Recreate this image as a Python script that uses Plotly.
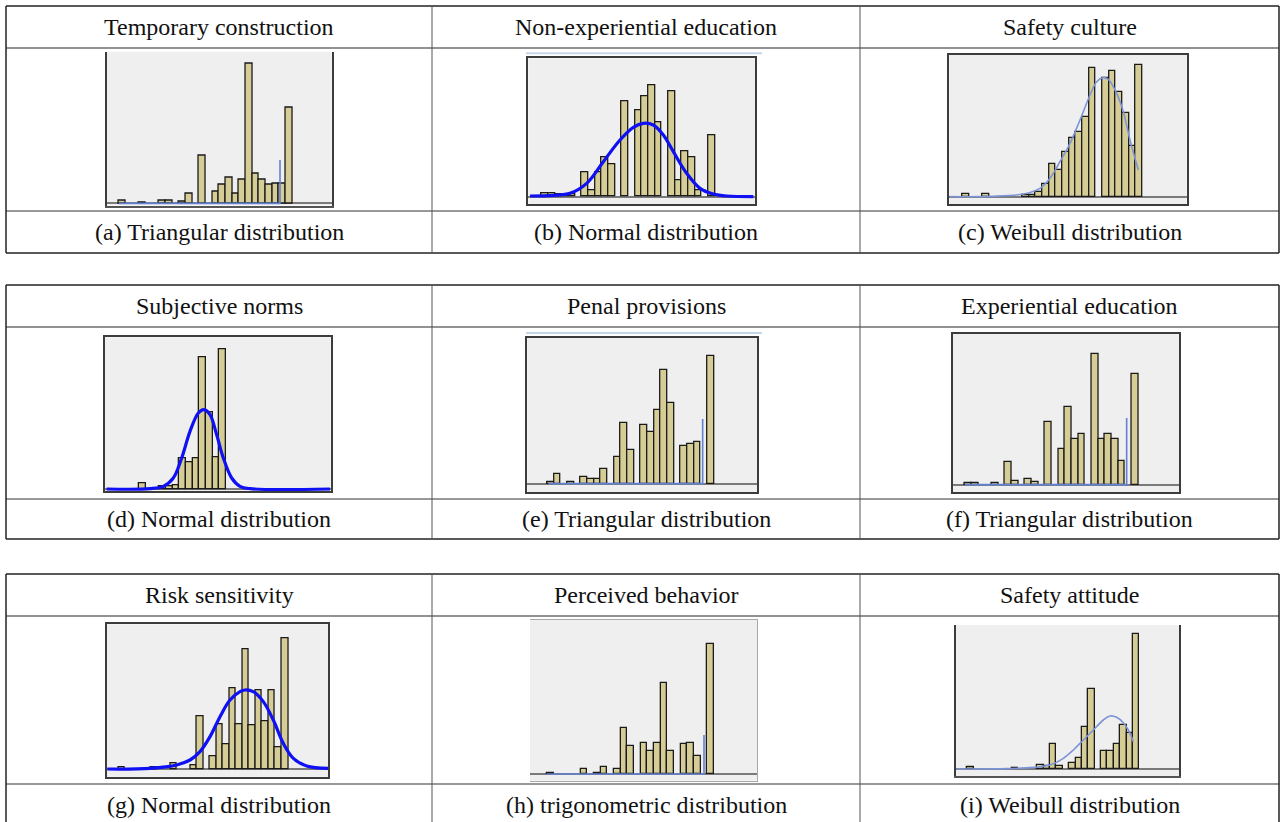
import plotly.graph_objects as go

W, H = 1281, 822

# ---------------- data ----------------
titles = ["Temporary construction", "Non-experiential education", "Safety culture",
          "Subjective norms", "Penal provisions", "Experiential education",
          "Risk sensitivity", "Perceived behavior", "Safety attitude"]
captions = ["(a) Triangular distribution", "(b) Normal distribution", "(c) Weibull distribution",
            "(d) Normal distribution", "(e) Triangular distribution", "(f) Triangular distribution",
            "(g) Normal distribution", "(h) trigonometric distribution", "(i) Weibull distribution"]

a_heights = [8, 0, 0, 3, 0, 0, 8, 8, 0, 6, 30, 0, 142, 0, 35, 55, 77, 30, 70, 420, 90, 70, 55, 60, 60, 287]
a_fit_x = [-0.5, 23.65, 23.65]
a_fit_y = [0, 0, 130]

b_heights = [10, 10, 7, 7, 7, 0, 73, 18, 73, 118, 97, 0, 285, 0, 260, 300, 335, 223, 0, 317, 50, 135, 118, 20, 0, 185]
b_fit_x = [-2.25, 1.25, 3.75, 6.25, 8.75, 11.25, 13.25, 14.75, 16.25, 17.75, 19.25, 21.25, 23.25, 25.25, 27.25, 31.25]
b_fit_y = [2, 4, 10, 40, 105, 170, 208, 220, 215, 185, 135, 70, 25, 8, 2, 0]

c_heights = [7, 0, 0, 7, 0, 0, 0, 0, 0, 5, 5, 15, 38, 98, 80, 135, 177, 195, 240, 385, 0, 355, 378, 315, 250, 152, 395]
c_fit_x = [-2.35, 3.65, 8.65, 11.15, 12.65, 14.15, 15.65, 17.15, 18.65, 19.65, 20.65, 21.4, 22.65, 23.65, 24.65, 25.9]
c_fit_y = [0, 1, 8, 25, 55, 105, 160, 230, 305, 345, 357, 352, 310, 255, 170, 80]

d_heights = [18, 0, 0, 8, 8, 10, 91, 81, 91, 395, 230, 96, 420]
d_fit_x = [-5.4, 1.1, 3.1, 4.6, 5.85, 7.1, 8.35, 9.2, 10.1, 11.1, 12.1, 13.35, 14.6, 16.1, 28.1]
d_fit_y = [0, 1, 8, 33, 93, 173, 228, 238, 223, 163, 93, 33, 8, 1, 0]

e_heights = [5, 30, 0, 6, 0, 20, 15, 15, 44, 0, 79, 182, 102, 0, 177, 154, 220, 342, 242, 0, 112, 120, 125, 0, 384]
e_fit_x = [-0.35, 22.8, 22.8]
e_fit_y = [0, 0, 194]

f_heights = [6, 6, 0, 0, 6, 0, 67, 12, 0, 17, 8, 0, 188, 0, 107, 232, 138, 153, 0, 393, 138, 153, 138, 70, 0, 333]
f_fit_x = [-0.5, 23.75, 23.75]
f_fit_y = [0, 0, 200]

g_heights = [6, 0, 0, 0, 0, 5, 0, 0, 17, 0, 0, 12, 159, 0, 37, 134, 74, 242, 134, 359, 130, 237, 144, 237, 64, 392]
g_fit_x = [-2.18, 4.35, 8.43, 10.47, 12.0, 13.53, 15.06, 16.59, 18.12, 18.89, 20.14, 21.69, 23.22, 24.75, 26.29, 28.33, 31.63]
g_fit_y = [0, 2, 12, 27, 52, 97, 157, 207, 232, 237, 232, 202, 147, 77, 32, 9, 2]

h_heights = [4, 0, 0, 0, 0, 14, 0, 4, 20, 0, 14, 139, 84, 0, 94, 70, 94, 274, 70, 0, 89, 94, 55, 0, 390]
h_fit_x = [-0.6, 23.0, 23.0]
h_fit_y = [0, 0, 117]

i_heights = [8, 0, 0, 0, 0, 0, 0, 3, 0, 0, 0, 13, 10, 75, 10, 0, 18, 33, 128, 240, 0, 56, 56, 75, 133, 108, 405]
i_fit_x = [-2.18, 5.68, 9.87, 12.48, 14.58, 16.15, 17.72, 19.29, 20.86, 21.91, 22.95, 24.0, 24.79, 25.57]
i_fit_y = [1, 2, 6, 13, 33, 58, 88, 118, 148, 160, 156, 140, 118, 83]

# ---------------- layout (positions / styles) ----------------
# origin of the cell picture, box (l, t, r, b) and baseline in 1/3-pixel units,
# centre of first bin and bin width in the same units
panels = [
    dict(h=a_heights, fx=a_fit_x, fy=a_fit_y, kind="tri", org=(100, 40), box=(20, 35, 695, 497), base=490, c0=67, bw=20, frame="sides"),
    dict(h=b_heights, fx=b_fit_x, fy=b_fit_y, kind="normal", org=(520, 40), box=(25, 55, 705, 492), base=470, c0=75, bw=20, frame="box"),
    dict(h=c_heights, fx=c_fit_x, fy=c_fit_y, kind="weibull", org=(940, 40), box=(28, 45, 740, 493), base=470, c0=77, bw=20, frame="box"),
    dict(h=d_heights, fx=d_fit_x, fy=d_fit_y, kind="normal", org=(100, 318), box=(15, 58, 692, 520), base=513, c0=128, bw=20, frame="box"),
    dict(h=e_heights, fx=e_fit_x, fy=e_fit_y, kind="tri", org=(520, 318), box=(22, 60, 712, 522), base=497, c0=92, bw=20, frame="box"),
    dict(h=f_heights, fx=f_fit_x, fy=f_fit_y, kind="tri", org=(940, 318), box=(38, 48, 718, 522), base=500, c0=85, bw=20, frame="box"),
    dict(h=g_heights, fx=g_fit_x, fy=g_fit_y, kind="normal", org=(100, 610), box=(20, 43, 685, 500), base=477, c0=64.8, bw=19.6, frame="box"),
    dict(h=h_heights, fx=h_fit_x, fy=h_fit_y, kind="tri", org=(520, 610), box=(30, 30, 712, 512), base=492, c0=92, bw=20, frame="light"),
    dict(h=i_heights, fx=i_fit_x, fy=i_fit_y, kind="weibull", org=(940, 610), box=(48, 45, 718, 498), base=478, c0=91.55, bw=19.1, frame="sides"),
]

BAR_FILL = "#d6cc96"
BAR_EDGE = "#1a1a1a"
FRAME = "#3c3c3c"

fig = go.Figure()
layout_axes = {}

def fit_trace(p, n):
    if p["kind"] == "normal":
        line = dict(color="#1010f5", width=3.2, shape="spline", smoothing=1.0)
    elif p["kind"] == "weibull":
        line = dict(color="#7d95d8", width=1.6, shape="spline", smoothing=1.0)
    else:
        line = dict(color="#6381d2", width=1.6)
    return go.Scatter(x=p["fx"], y=p["fy"], mode="lines", line=line,
                      xaxis="x" + n, yaxis="y" + n, hoverinfo="skip", showlegend=False)

for k, p in enumerate(panels):
    n = "" if k == 0 else str(k + 1)
    xs = [i for i, v in enumerate(p["h"]) if v > 0]
    ys = [v for v in p["h"] if v > 0]
    bars = go.Bar(x=xs, y=ys, width=1, marker=dict(color=BAR_FILL, line=dict(color=BAR_EDGE, width=1.3)),
                  xaxis="x" + n, yaxis="y" + n, showlegend=False)
    if p["kind"] == "tri":
        fig.add_trace(fit_trace(p, n))
        fig.add_trace(bars)
    else:
        fig.add_trace(bars)
        fig.add_trace(fit_trace(p, n))

    ox, oy = p["org"]
    zl, zt, zr, zb = p["box"]
    xa = dict(domain=[(ox + zl / 3) / W, (ox + zr / 3) / W],
              range=[(zl - p["c0"]) / p["bw"], (zr - p["c0"]) / p["bw"]],
              showgrid=False, zeroline=False, showticklabels=False, ticks="",
              anchor="y" + n, fixedrange=True)
    ya = dict(domain=[1 - (oy + zb / 3) / H, 1 - (oy + zt / 3) / H],
              range=[p["base"] - zb, p["base"] - zt],
              showgrid=False, zeroline=True, zerolinecolor="#7a7a7a", zerolinewidth=1.5,
              showticklabels=False, ticks="", anchor="x" + n, fixedrange=True)
    if p["frame"] == "box":
        xa.update(showline=True, mirror=True, linecolor=FRAME, linewidth=2)
        ya.update(showline=True, mirror=True, linecolor=FRAME, linewidth=2)
    elif p["frame"] == "sides":
        xa.update(showline=True, mirror=False, linecolor="#555555", linewidth=1.5)
        ya.update(showline=True, mirror=True, linecolor=FRAME, linewidth=2)
    else:
        xa.update(showline=True, mirror=True, linecolor="#a8a8a8", linewidth=1)
        ya.update(showline=True, side="right", linecolor="#a8a8a8", linewidth=1)
    layout_axes["xaxis" + n] = xa
    layout_axes["yaxis" + n] = ya

# ---------------- table grid ----------------
col_x = [6, 432, 860, 1279]
blocks = [(6, 48, 211, 253), (285, 327, 499, 539), (574, 616, 784, 826)]

def px(x):
    return x / W

def py(y):
    return 1 - y / H

shapes = []
for (top, hsep, csep, bot) in blocks:
    for yy, col, wd in [(top, "#222222", 1.5), (hsep, "#6e6e6e", 1.5), (csep, "#333333", 1.2), (bot, "#222222", 1.5)]:
        shapes.append(dict(type="line", xref="paper", yref="paper", x0=px(col_x[0]), x1=px(col_x[-1]),
                           y0=py(yy), y1=py(yy), line=dict(color=col, width=wd)))
    for j, xx in enumerate(col_x):
        shapes.append(dict(type="line", xref="paper", yref="paper", x0=px(xx), x1=px(xx),
                           y0=py(top), y1=py(bot),
                           line=dict(color="#222222" if j in (0, 3) else "#555555", width=1.5 if j in (0, 3) else 1)))

# faint blue rules above panels (b) and (e)
for yy in (53.3, 333):
    shapes.append(dict(type="line", xref="paper", yref="paper", x0=px(526), x1=px(762),
                       y0=py(yy), y1=py(yy), line=dict(color="#c6d6ea", width=2)))

annotations = []
FONT = dict(family="Liberation Serif, Times New Roman, serif", size=24, color="#111111")
for k in range(9):
    r, c = divmod(k, 3)
    top, hsep, csep, bot = blocks[r]
    cx = (col_x[c] + col_x[c + 1]) / 2
    annotations.append(dict(text=titles[k], x=px(cx), y=py((top + hsep) / 2), xref="paper", yref="paper",
                            showarrow=False, xanchor="center", yanchor="middle", font=FONT))
    annotations.append(dict(text=captions[k], x=px(cx), y=py((csep + bot) / 2), xref="paper", yref="paper",
                            showarrow=False, xanchor="center", yanchor="middle", font=FONT))

fig.update_layout(width=W, height=H, margin=dict(l=0, r=0, t=0, b=0),
                  paper_bgcolor="white", plot_bgcolor="#efefef",
                  bargap=0, showlegend=False, shapes=shapes, annotations=annotations,
                  **layout_axes)

fig.write_html("out.html", config={"displayModeBar": False},
               post_script="document.body.style.margin='0';document.body.style.overflow='hidden';")
